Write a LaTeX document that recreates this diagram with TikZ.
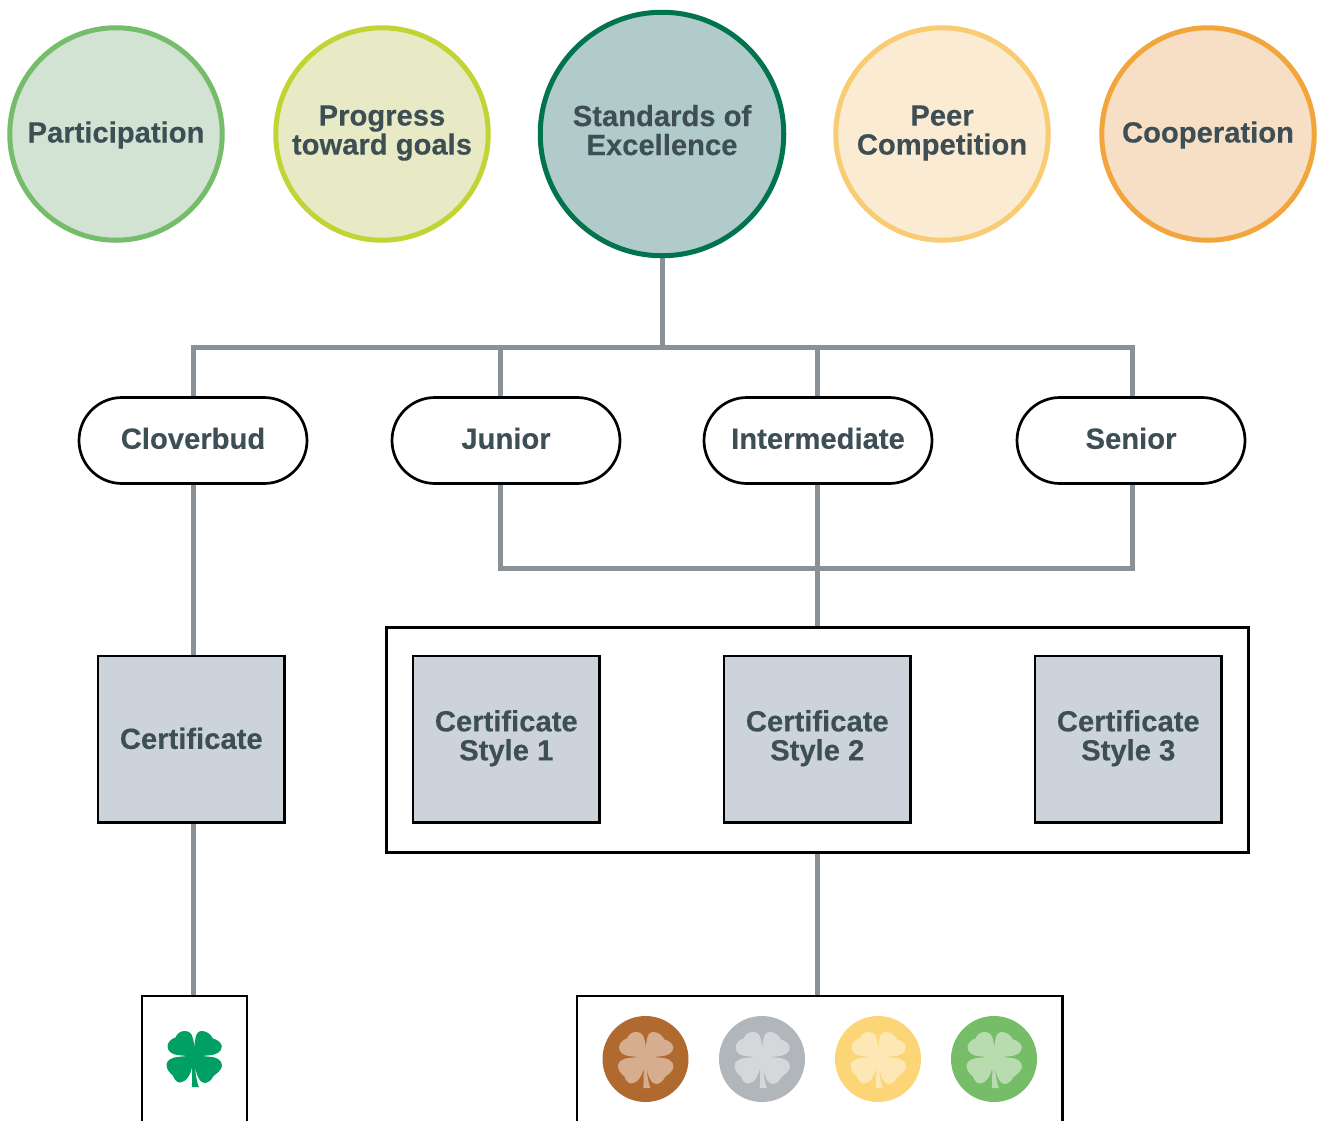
\documentclass[tikz,border=0pt]{standalone}
\usepackage{fontspec}
\setmainfont[BoldFeatures={FakeBold=0.25}]{Liberation Sans}
\usetikzlibrary{backgrounds,calc}
\definecolor{txt}{HTML}{3D4F55}
\definecolor{wire}{HTML}{8A9297}
\definecolor{boxfill}{HTML}{CCD3DB}
\tikzset{
  x=1pt,y=-1pt,
  lab/.style={font=\fontsize{29.2}{29}\selectfont\bfseries,text=txt,align=center,inner sep=0pt,outer sep=0pt},
  twolines/.style={text depth=8pt},
  goal/.style={lab,circle,line width=5pt,minimum size=212.5pt},
  maingoal/.style={lab,circle,line width=5pt,minimum size=243.5pt},
  singleline/.style={text height=22pt,text depth=5pt},
  pill/.style={lab,rectangle,draw=black,line width=2.7pt,fill=white,rounded corners=43pt,minimum width=228pt,minimum height=86pt,text height=21pt,text depth=4.5pt},
  certbox/.style={lab,rectangle,draw=black,line width=2.7pt,fill=boxfill,minimum width=186.5pt,minimum height=166.5pt},
  framebox/.style={rectangle,draw=black,line width=2.7pt,inner sep=0pt,outer sep=0pt},
  medal/.style={circle,minimum size=86pt,inner sep=0pt,outer sep=0pt},
  wireline/.style={draw=wire,line width=5pt,line cap=butt,line join=miter},
  pics/clover/.style={code={
    \fill[#1] (0,-7) .. controls (0.3,-12) and (0,-15) .. (1,-18)
      .. controls (2,-23) and (4,-25) .. (7.5,-25)
      .. controls (12,-25) and (16,-22) .. (18.5,-17.5)
      .. controls (23,-16.5) and (27.3,-13) .. (27.3,-9.5)
      .. controls (27.3,-4) and (21,-1) .. (15,-0.7)
      .. controls (12,-0.4) and (9,-0.2) .. (6.5,0)
      .. controls (9,0.2) and (12,0.4) .. (15,0.7)
      .. controls (22,1) and (27.5,4) .. (27.5,9.5)
      .. controls (27.5,13.5) and (23,17) .. (19,20)
      .. controls (17,24) and (13.5,27) .. (10,27)
      .. controls (5.5,27) and (1.5,19) .. (0.8,10)
      .. controls (0.8,18) and (2.5,26) .. (4.3,31)
      -- (-2.7,31) .. controls (-2.2,24) and (-2.2,16) .. (-2.3,10)
      .. controls (-3.5,19) and (-9,26.5) .. (-14.5,26.5)
      .. controls (-18,26.5) and (-20.5,23) .. (-21.5,19.5)
      .. controls (-25,17) and (-28,13) .. (-28,8.5)
      .. controls (-28,4) and (-22,1) .. (-15,0.7)
      .. controls (-12,0.4) and (-9,0.2) .. (-6.5,0)
      .. controls (-9,-0.2) and (-12,-0.4) .. (-15,-0.7)
      .. controls (-21,-1) and (-27,-4) .. (-27,-9.5)
      .. controls (-27,-14) and (-23,-17.5) .. (-19,-18.5)
      .. controls (-17.5,-22.5) and (-14,-25) .. (-10,-25)
      .. controls (-6,-25) and (-3,-23) .. (-2,-19)
      .. controls (-0.8,-15) and (-0.3,-12) .. (0,-7) -- cycle;
  }}
}
\begin{document}
\begin{tikzpicture}
\useasboundingbox (0,0) rectangle (1320,1120);
\clip (0,0) rectangle (1320,1120);
% goal circles
\node[goal,singleline,draw={rgb,255:red,117;green,189;blue,106},fill={rgb,255:red,210;green,226;blue,211}] (part) at (116,134) {Participation};
\node[goal,twolines,draw={rgb,255:red,193;green,212;blue,51},fill={rgb,255:red,232;green,234;blue,197}] (prog) at (382,134) {Progress\\toward goals};
\node[maingoal,text depth=8pt,draw={rgb,255:red,1;green,115;blue,78},fill={rgb,255:red,177;green,203;blue,203}] (std) at (662,134) {Standards of\\Excellence};
\node[goal,twolines,draw={rgb,255:red,249;green,203;blue,114},fill={rgb,255:red,250;green,235;blue,210}] (peer) at (942,134) {Peer\\Competition};
\node[goal,singleline,draw={rgb,255:red,242;green,165;blue,58},fill={rgb,255:red,247;green,223;blue,197}] (coop) at (1208,134) {Cooperation};
% levels
\node[pill] (clover) at (193,440.5) {Cloverbud};
\node[pill] (junior) at (506,440.5) {Junior};
\node[pill] (inter) at (818,440.5) {Intermediate};
\node[pill] (senior) at (1131,440.5) {Senior};
% certificates
\node[framebox,minimum width=862.5pt,minimum height=225.5pt] (group) at (817.5,740) {};
\node[certbox,text depth=2pt] (cert) at (191.3,739.3) {Certificate};
\node[certbox,twolines] (style1) at (506.3,739.3) {Certificate\\Style 1};
\node[certbox,twolines] (style2) at (817.3,739.3) {Certificate\\Style 2};
\node[certbox,twolines] (style3) at (1128.3,739.3) {Certificate\\Style 3};
% bottom frames
\node[framebox,line width=1.5pt,minimum width=105pt,minimum height=160pt,anchor=north west] (sheet) at (141.8,996) {};
\node[framebox,minimum width=485.5pt,minimum height=160pt,anchor=north west] (medals) at (577,996) {};
\pic at (194.5,1056) {clover={fill={rgb,255:red,0;green,160;blue,100}}};
\node[medal,fill={rgb,255:red,176;green,106;blue,47}] (m1) at (645.5,1059) {};
\node[medal,fill={rgb,255:red,177;green,182;blue,187}] (m2) at (762,1059) {};
\node[medal,fill={rgb,255:red,252;green,213;blue,119}] (m3) at (878,1059) {};
\node[medal,fill={rgb,255:red,117;green,189;blue,102}] (m4) at (994,1059) {};
\pic at (646,1057) {clover={fill={rgb,255:red,214;green,174;blue,143}}};
\pic at (762.5,1057) {clover={fill={rgb,255:red,213;green,215;blue,219}}};
\pic at (878.5,1057) {clover={fill={rgb,255:red,253;green,231;blue,180}}};
\pic at (994.5,1057) {clover={fill={rgb,255:red,185;green,219;blue,176}}};
% connectors
\coordinate (bus) at (662,347);
\coordinate (lowbus) at (817.5,568.5);
\coordinate (jtop) at (500.5,397);
\coordinate (jbot) at (500.5,484);
\coordinate (itop) at (817.5,397);
\coordinate (ibot) at (817.5,484);
\coordinate (stop) at (1132.5,397);
\coordinate (sbot) at (1132.5,484);
\coordinate (ctop) at (193,397);
\coordinate (cbot) at (193,484);
\coordinate (ccert) at (193,656);
\coordinate (cert2) at (193,823);
\coordinate (sheettop) at (193,996);
\coordinate (grouptop) at (817.5,627);
\coordinate (groupbot) at (817.5,853);
\coordinate (medalstop) at (817.5,996);
\begin{scope}[on background layer]
\draw[wireline] (std.south) -- (bus);
\draw[wireline] (ctop) |- (bus) -| (stop);
\draw[wireline] (jtop) -- (jtop |- bus);
\draw[wireline] (itop) -- (itop |- bus);
\draw[wireline] (cbot) -- (ccert);
\draw[wireline] (cert2) -- (sheettop);
\draw[wireline] (jbot) |- (lowbus) -| (sbot);
\draw[wireline] (ibot) -- (grouptop);
\draw[wireline] (groupbot) -- (medalstop);
\end{scope}
\end{tikzpicture}
\end{document}
